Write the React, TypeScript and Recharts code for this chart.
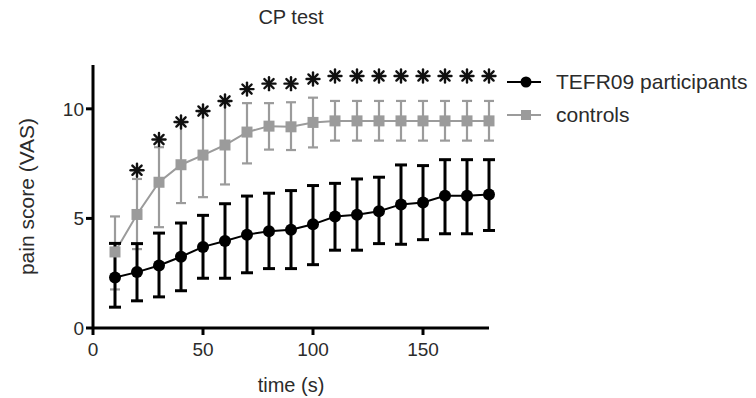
import React from 'react';
import { ComposedChart, Line, XAxis, YAxis, ErrorBar } from 'recharts';

const times = [10, 20, 30, 40, 50, 60, 70, 80, 90, 100, 110, 120, 130, 140, 150, 160, 170, 180];

// TEFR09 participants (mean, upper, lower of error bar)
const tefrMean = [2.3, 2.55, 2.85, 3.25, 3.7, 3.97, 4.26, 4.41, 4.48, 4.73, 5.09, 5.17, 5.33, 5.64, 5.73, 6.03, 6.03, 6.09];
const tefrUpper = [3.86, 3.85, 4.33, 4.79, 5.14, 5.67, 6.02, 6.15, 6.27, 6.5, 6.6, 6.8, 6.88, 7.44, 7.41, 7.68, 7.68, 7.68];
const tefrLower = [0.95, 1.24, 1.42, 1.7, 2.27, 2.27, 2.52, 2.71, 2.71, 2.89, 3.55, 3.55, 3.85, 3.82, 4.03, 4.3, 4.3, 4.45];

// controls
const ctrlMean = [3.47, 5.18, 6.65, 7.45, 7.89, 8.35, 8.94, 9.21, 9.18, 9.38, 9.45, 9.45, 9.45, 9.45, 9.45, 9.45, 9.45, 9.45];
const ctrlUpper = [5.09, 6.8, 8.25, 9.38, 9.83, 10.3, 10.26, 10.26, 10.3, 10.51, 10.36, 10.36, 10.36, 10.36, 10.36, 10.36, 10.36, 10.36];
const ctrlLower = [1.76, 3.6, 4.6, 5.7, 5.97, 6.55, 7.51, 8.14, 8.12, 8.24, 8.55, 8.55, 8.55, 8.55, 8.55, 8.55, 8.55, 8.55];

// significance asterisks (null = none)
const starY = [null, 7.2, 8.6, 9.4, 9.9, 10.36, 10.9, 11.15, 11.15, 11.36, 11.5, 11.5, 11.5, 11.5, 11.5, 11.5, 11.5, 11.5];

const xTicks = [0, 50, 100, 150];
const yTicks = [0, 5, 10];

const data = times.map((t, i) => ({
  t,
  tefr: tefrMean[i],
  tefrErr: [tefrMean[i] - tefrLower[i], tefrUpper[i] - tefrMean[i]],
  ctrl: ctrlMean[i],
  ctrlErr: [ctrlMean[i] - ctrlLower[i], ctrlUpper[i] - ctrlMean[i]],
  star: starY[i],
}));

const GRAY = '#9b9b9b';
const TEXT = '#2b2b2b';
const FONT = '"Liberation Sans", Arial, sans-serif';

const SquareDot = (props: any) => {
  const { cx, cy } = props;
  if (cx == null || cy == null) return <g key={props.key} />;
  return <rect key={props.key} x={cx - 5.5} y={cy - 5.5} width={11} height={11} fill={GRAY} />;
};

const StarDot = (props: any) => {
  const { cx, cy, payload } = props;
  if (payload == null || payload.star == null || cx == null || cy == null) return <g key={props.key} />;
  const r = 6.5;
  const d = r * 0.7071;
  return (
    <g key={props.key} stroke="#111" strokeWidth={2.4} strokeLinecap="round">
      <line x1={cx - r} y1={cy} x2={cx + r} y2={cy} />
      <line x1={cx} y1={cy - r} x2={cx} y2={cy + r} />
      <line x1={cx - d} y1={cy - d} x2={cx + d} y2={cy + d} />
      <line x1={cx - d} y1={cy + d} x2={cx + d} y2={cy - d} />
    </g>
  );
};

const ChartLegend = () => (
  <div style={{ position: 'absolute', left: 507, top: 65, fontFamily: FONT, fontSize: 21, color: TEXT }}>
    <div style={{ display: 'flex', alignItems: 'center', height: 33 }}>
      <svg width={46} height={20}>
        <line x1={0} y1={10} x2={34} y2={10} stroke="#000" strokeWidth={2} />
        <circle cx={19} cy={10} r={5.5} fill="#000" />
      </svg>
      <span style={{ marginLeft: 3 }}>TEFR09 participants</span>
    </div>
    <div style={{ display: 'flex', alignItems: 'center', height: 33 }}>
      <svg width={46} height={20}>
        <line x1={0} y1={10} x2={34} y2={10} stroke={GRAY} strokeWidth={2} />
        <rect x={14} y={5} width={10} height={10} fill={GRAY} />
      </svg>
      <span style={{ marginLeft: 3 }}>controls</span>
    </div>
  </div>
);

export default function App() {
  return (
    <div style={{ position: 'absolute', left: 0, top: 0, width: 756, height: 398, background: '#fff' }}>
      <div
        style={{
          position: 'absolute',
          left: 93,
          width: 396,
          top: 6,
          textAlign: 'center',
          fontFamily: FONT,
          fontSize: 20,
          color: TEXT,
        }}
      >
        CP test
      </div>
      <ComposedChart
        width={756}
        height={398}
        data={data}
        margin={{ top: 65, right: 267, bottom: 0, left: 0 }}
      >
        <XAxis
          dataKey="t"
          type="number"
          domain={[0, 180]}
          ticks={xTicks}
          height={70}
          stroke="#000"
          strokeWidth={3}
          tickSize={7}
          tick={{ fill: TEXT, fontSize: 19, fontFamily: FONT, dy: 6 }}
          label={{ value: 'time (s)', position: 'insideBottom', offset: 6, fill: TEXT, fontSize: 20, fontFamily: FONT }}
        />
        <YAxis
          type="number"
          domain={[0, 12]}
          ticks={yTicks}
          width={93}
          stroke="#000"
          strokeWidth={3}
          tickSize={7}
          tick={{ fill: TEXT, fontSize: 19, fontFamily: FONT }}
          label={{
            value: 'pain score (VAS)',
            angle: -90,
            position: 'insideLeft',
            offset: 27,
            fill: TEXT,
            fontSize: 21,
            fontFamily: FONT,
            style: { textAnchor: 'middle' },
          }}
        />
        <Line
          type="linear"
          dataKey="ctrl"
          stroke={GRAY}
          strokeWidth={2}
          dot={<SquareDot />}
          activeDot={false}
          isAnimationActive={false}
        >
          <ErrorBar dataKey="ctrlErr" width={5} stroke={GRAY} strokeWidth={2.2} direction="y" />
        </Line>
        <Line
          type="linear"
          dataKey="tefr"
          stroke="#000"
          strokeWidth={2}
          dot={{ r: 6, fill: '#000', stroke: '#000', strokeWidth: 0 }}
          activeDot={false}
          isAnimationActive={false}
        >
          <ErrorBar dataKey="tefrErr" width={6} stroke="#000" strokeWidth={3} direction="y" />
        </Line>
        <Line
          type="linear"
          dataKey="star"
          stroke="none"
          dot={<StarDot />}
          activeDot={false}
          legendType="none"
          isAnimationActive={false}
        />
      </ComposedChart>
      <ChartLegend />
    </div>
  );
}
